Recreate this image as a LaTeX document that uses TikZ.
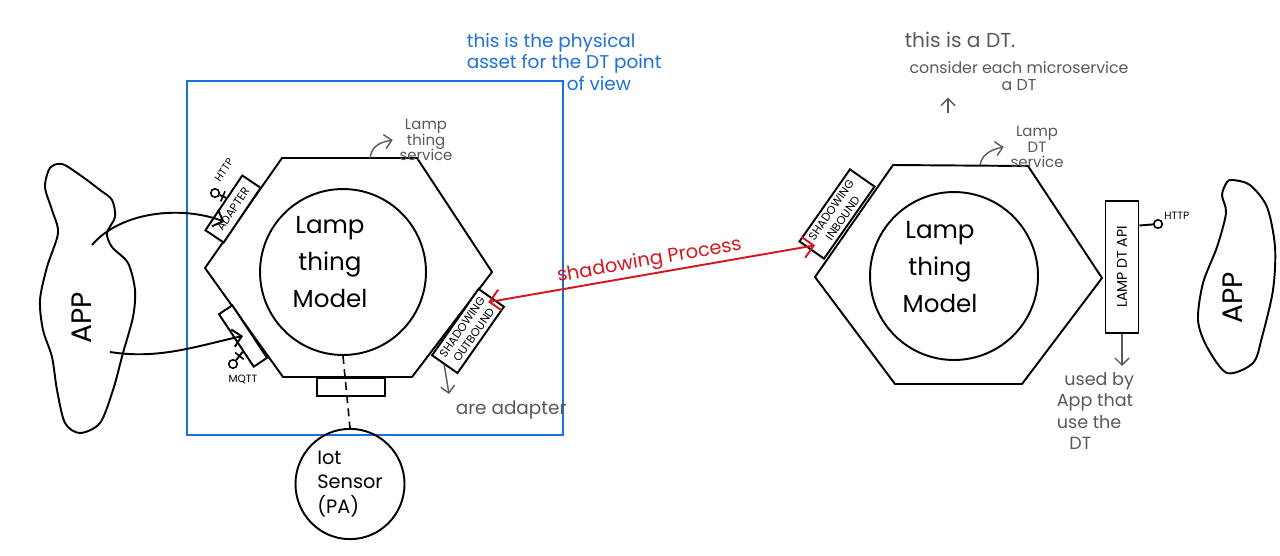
\documentclass[tikz,border=0pt]{standalone}
\usepackage{fontspec}
\setmainfont{Poppins}
\usepackage{tikz}
\usetikzlibrary{positioning,arrows.meta,calc,shapes.geometric}
\definecolor{assetblue}{RGB}{28,112,218}
\definecolor{shadowred}{RGB}{212,22,30}
\definecolor{remarkgray}{RGB}{88,88,88}

\begin{document}
\begin{tikzpicture}[x=0.02cm,y=-0.02cm,line width=1.1pt,
  every node/.style={font=\small},
  port/.style={draw,fill=white,inner sep=1pt,font=\fontsize{6.5}{8}\selectfont},
  pin/.style={draw,circle,inner sep=0pt,minimum size=0.17cm,line width=0.9pt},
  tick/.style={sloped,draw,inner sep=0pt,minimum width=0pt,minimum height=0.22cm,line width=0.9pt},
  remark/.style={text=remarkgray,align=center},
  remarkline/.style={draw=remarkgray,line width=0.8pt,-{Straight Barb[length=4pt]}},
  model/.style={align=center,font=\fontsize{14}{21}\selectfont},
  tiny/.style={font=\fontsize{6}{6}\selectfont,inner sep=0pt}]
 \useasboundingbox (0,0) rectangle (1280,555);
 \draw[assetblue] (187,81) rectangle (563,435);
 \node[text=assetblue,align=left,anchor=north west,font=\fontsize{10.5}{12}\selectfont] (assetnote) at (460,27) {this is the physical\\asset for the DT point\\\hspace*{2cm}of view};
 \draw plot[smooth cycle] coordinates {(50,168) (62,164) (80,175) (100,190) (112,200) (115,217) (107,233) (112,247) (128,263) (135,290) (133,317) (123,353) (113,390) (100,423) (80,433) (65,423) (57,390) (52,357) (43,330) (40,300) (47,267) (58,233) (52,210) (45,187)};
 \node[rotate=90,font=\fontsize{16}{16}\selectfont] (lapp) at (82,318) {APP};
 \coordinate (lapphttp) at (92,245); \coordinate (lappmqtt) at (110,352);
 \draw (205,268) -- (282,158) -- (417,158) -- (492,272) -- (412,377) -- (283,377) -- cycle;
 \node[circle,draw,minimum size=3.32cm] (lcirc) at (343,272) {};
 \node[model] (lmodel) at (330,262) {Lamp\\thing\\Model};
 \node[draw,minimum width=1.36cm,minimum height=0.36cm,anchor=north] (lplug) at (351,377) {};
 \node[port,rotate=56,minimum width=1.32cm,minimum height=0.44cm] (adapter) at (233,209) {ADAPTER};
 \node[port,rotate=-56.5,minimum width=1.26cm,minimum height=0.32cm] (mqtt) at (243,336) {};
 \node[port,rotate=55,minimum width=1.62cm,minimum height=0.62cm,align=center] (outbound) at (468,331) {SHADOWING\\OUTBOUND};
 \node[pin] (httppin) at (215,193) {};
 \draw ($(adapter.north)!0.16!(adapter.north east)$) -- node[tick]{} (httppin);
 \node[tiny,rotate=56] (httplabel) at (224,170) {HTTP};
 \node[pin] (mqttpin) at (233,364) {};
 \draw ($(mqtt.south)!0.4!(mqtt.south east)$) -- node[tick]{} (mqttpin);
 \node[tiny] (mqttlabel) at (243,379) {MQTT};
 \draw[-{Straight Barb[length=5pt]}] (lapphttp) .. controls (120,212) and (180,205) .. ($(adapter.center)!0.45!(adapter.west)$);
 \draw[-{Straight Barb[length=5pt]}] (lappmqtt) .. controls (160,360) and (200,345) .. (mqtt.center);
 \node[remark,font=\fontsize{8.5}{9}\selectfont] (lts) at (426,140) {Lamp\\thing\\service};
 \coordinate (lhextop) at (370,158);
 \draw[remarkline] (lhextop) .. controls +(2,-14) and +(-10,2) .. (lts.west);
 \node[ellipse,draw,minimum width=2.04cm,minimum height=1.88cm,align=left,font=\fontsize{11}{14}\selectfont] (iot) at (350,484) {Iot\\Sensor\\(PA)};
 \draw[dash pattern=on 4.5pt off 3pt,line width=0.9pt] (lcirc.south) -- (iot.north);
 \node[remark,anchor=north west,font=\fontsize{10.5}{12}\selectfont] (adapternote) at (449,394) {are adapter};
 \draw[remarkline] (outbound.west) -- (adapternote.north west);
 \draw (815,277) -- (893,165) -- (1028,166) -- (1102,278) -- (1022,384) -- (895,384) -- cycle;
 \node[circle,draw,minimum size=3.36cm] (rcirc) at (954,276) {};
 \node[model] (rmodel) at (940,267) {Lamp\\thing\\Model};
 \node[port,rotate=55,minimum width=1.76cm,minimum height=0.6cm,align=center] (inbound) at (837,214) {SHADOWING\\INBOUND};
 \draw[shadowred,{Straight Barb[length=6pt]}-{Straight Barb[length=6pt]}] ($(outbound.center)!0.85!(outbound.east)$) -- node[sloped,above,text=shadowred,font=\fontsize{11}{11}\selectfont,inner sep=1pt] (shadowlabel) {shadowing Process} ($(inbound.center)!0.85!(inbound.west)$);
 \node[remark,font=\fontsize{8.5}{9}\selectfont] (ldts) at (1037,147) {Lamp\\DT\\service};
 \coordinate (rhextop) at (980,165);
 \draw[remarkline] (rhextop) .. controls +(2,-12) and +(-10,2) .. (ldts.west);
 \node[draw,rotate=90,minimum width=2.64cm,minimum height=0.66cm,font=\fontsize{8}{8}\selectfont] (api) at (1122,267) {LAMP DT API};
 \node[pin] (apipin) at (1158,224) {};
 \draw ($(api.south)!0.62!(api.south east)$) -- (apipin);
 \node[tiny,above right=0pt and 1pt of apipin] (apihttp) {HTTP};
 \node[remark,align=left,anchor=north west,font=\fontsize{10}{12}\selectfont] (apinote) at (1050,366) {\hspace*{0.15cm}used by\\App that\\use the\\\hspace*{0.25cm}DT};
 \draw[remarkline] (api.west) -- (api.west |- apinote.north);
 \draw plot[smooth cycle] coordinates {(1227,182) (1222,195) (1226,213) (1217,247) (1203,283) (1198,320) (1207,347) (1227,373) (1253,363) (1262,337) (1273,290) (1275,247) (1267,207) (1250,185) (1233,180)};
 \node[rotate=90,font=\fontsize{16}{16}\selectfont] (rapp) at (1233,298) {APP};
 \node[remark,anchor=west,font=\fontsize{11.5}{12}\selectfont] (dtnote) at (898,40) {this is a DT.};
 \node[remark,font=\fontsize{9}{10}\selectfont] (msnote) at (1019,76) {consider each microservice\\a DT};
 \coordinate (dtarrow) at (948,113);
 \draw[remarkline] (dtarrow) -- (dtarrow |- msnote.south);
\end{tikzpicture}
\end{document}
